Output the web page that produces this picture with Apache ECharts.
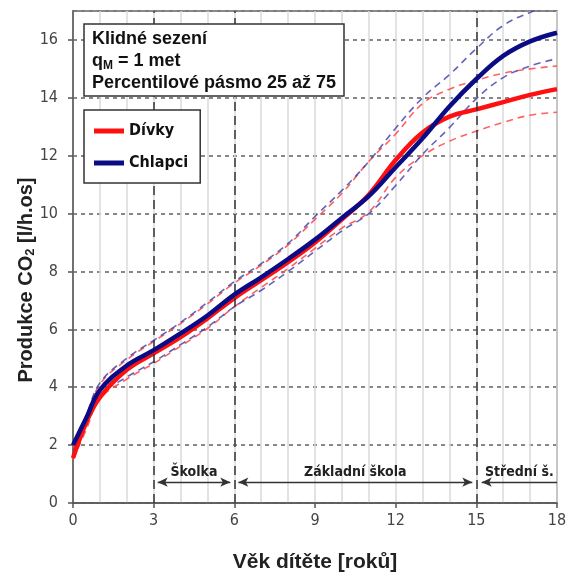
<!DOCTYPE html>
<html>
<head>
<meta charset="utf-8">
<script src="https://cdn.jsdelivr.net/npm/echarts@6/dist/echarts.min.js"></script>
<style>
  html, body { margin: 0; padding: 0; background: #fff; }
  #main { width: 569px; height: 573px; }
</style>
</head>
<body>
<div id="main"></div>
<script>
// věk dítěte [roky]
var ages = [0, 0.5, 1, 2, 3, 4, 5, 6, 7, 8, 9, 10, 11, 12, 13, 14, 15, 16, 17, 18];

// Dívky - medián, 25. a 75. percentil
var girlsMed = [1.55, 2.8, 3.65, 4.6, 5.17, 5.73, 6.38, 7.08, 7.7, 8.32, 9.0, 9.8, 10.65, 11.85, 12.8, 13.35, 13.6, 13.85, 14.1, 14.3];
var girlsP25 = [1.5, 2.55, 3.6, 4.28, 4.82, 5.42, 6.03, 6.78, 7.45, 8.1, 8.8, 9.5, 10.05, 11.25, 12.0, 12.5, 12.85, 13.15, 13.4, 13.5];
var girlsP75 = [1.9, 2.95, 4.1, 4.95, 5.58, 6.2, 6.88, 7.6, 8.22, 8.92, 9.8, 10.7, 11.8, 12.75, 13.8, 14.3, 14.6, 14.85, 15.0, 15.1];

// Chlapci - medián, 25. a 75. percentil
var boysMed = [2.0, 2.95, 3.9, 4.75, 5.28, 5.86, 6.48, 7.2, 7.8, 8.43, 9.1, 9.85, 10.6, 11.6, 12.6, 13.7, 14.65, 15.45, 15.95, 16.25];
var boysP25 = [1.8, 2.7, 3.72, 4.35, 4.88, 5.47, 6.08, 6.78, 7.35, 8.0, 8.7, 9.4, 10.0, 10.97, 12.05, 12.97, 13.97, 14.7, 15.1, 15.35];
var boysP75 = [2.05, 3.05, 4.15, 5.0, 5.62, 6.24, 6.93, 7.65, 8.27, 8.97, 9.9, 10.8, 11.8, 12.95, 14.0, 14.8, 15.7, 16.5, 16.95, 17.25];

// školní období (hranice a popisky)
var schoolBounds = [3, 6, 15];
var periods = [
    {name: 'Školka', from: 3.15, to: 5.85, both: true},
    {name: 'Základní škola', from: 6.15, to: 14.85, both: true},
    {name: 'Střední š.', from: 15.2, to: 18, both: false}
];
var periodY = 0.72;

var condensed = "'Liberation Sans Narrow', 'DejaVu Sans Condensed', sans-serif";
var bold = "'Liberation Sans', 'DejaVu Sans', sans-serif";

function pairs(vals) {
    var out = [];
    for (var i = 0; i < ages.length; i++) {
        out.push([ages[i], vals[i]]);
    }
    return out;
}

function dashed(name, vals, color) {
    return {
        name: name,
        type: 'line',
        data: pairs(vals),
        smooth: 0.4,
        symbol: 'none',
        silent: true,
        lineStyle: {color: color, width: 1.6, type: [7, 5]},
        z: 3
    };
}

var periodLines = periods.map(function (p) {
    return [
        {coord: [p.from, periodY], symbol: 'arrow', symbolSize: [7, 10], name: p.name},
        {coord: [p.to, periodY], symbol: p.both ? 'arrow' : 'none', symbolSize: [7, 10]}
    ];
});

var myChart = echarts.init(document.getElementById('main'));
var option = {
    animation: false,
    title: {
        text: '{b|Klidné sezení}\n{b|q}{s|M}{b| = 1 met}\n{b|Percentilové pásmo 25 až 75}',
        left: 84,
        top: 22,
        padding: [6, 8, 4, 8],
        borderColor: '#333',
        borderWidth: 1.5,
        backgroundColor: '#fff',
        textStyle: {
            rich: {
                b: {fontFamily: bold, fontWeight: 'bold', fontSize: 18, color: '#111', lineHeight: 22},
                s: {fontFamily: bold, fontWeight: 'bold', fontSize: 12, color: '#111', lineHeight: 22, verticalAlign: 'bottom', padding: [8, 0, 0, 0]}
            }
        },
        z: 10
    },
    legend: {
        data: ['Dívky', 'Chlapci'],
        orient: 'vertical',
        left: 84,
        top: 110,
        padding: [13, 12, 12, 10],
        itemGap: 16,
        itemWidth: 30,
        itemHeight: 5,
        icon: 'rect',
        borderColor: '#333',
        borderWidth: 1.5,
        backgroundColor: '#fff',
        textStyle: {fontFamily: condensed, fontWeight: 'bold', fontSize: 16, color: '#111'},
        z: 10
    },
    grid: {
        left: 73,
        right: 12,
        top: 11,
        bottom: 70,
        show: true,
        outerBoundsMode: 'none',
        borderColor: '#666',
        borderWidth: 1.5
    },
    xAxis: {
        type: 'value',
        min: 0,
        max: 18,
        interval: 3,
        name: 'Věk dítěte [roků]',
        nameLocation: 'middle',
        nameGap: 49,
        nameTextStyle: {fontFamily: bold, fontWeight: 'bold', fontSize: 21, color: '#222'},
        axisLine: {lineStyle: {color: '#555', width: 1.5}},
        axisTick: {show: true, length: 5, lineStyle: {color: '#555', width: 1.5}},
        axisLabel: {fontFamily: condensed, fontSize: 16, color: '#444', margin: 10},
        splitLine: {show: true, lineStyle: {color: '#dadada', width: 1.5}},
        minorTick: {show: false, splitNumber: 3},
        minorSplitLine: {show: true, lineStyle: {color: '#dadada', width: 1.5}}
    },
    yAxis: {
        type: 'value',
        min: 0,
        max: 17,
        interval: 2,
        name: '{a|Produkce CO}{s|2}{a| [l/h.os]}',
        nameLocation: 'middle',
        nameGap: 36,
        nameRotate: 90,
        nameMoveOverlap: false,
        nameTextStyle: {
            padding: [0, 46, 0, 0],
            rich: {
                a: {fontFamily: bold, fontWeight: 'bold', fontSize: 20, color: '#222'},
                s: {fontFamily: bold, fontWeight: 'bold', fontSize: 13, color: '#222', padding: [9, 0, 0, 0]}
            }
        },
        axisLine: {lineStyle: {color: '#555', width: 1.5}},
        axisTick: {show: true, length: 5, lineStyle: {color: '#555', width: 1.5}},
        axisLabel: {fontFamily: condensed, fontSize: 16, color: '#444', margin: 15, showMaxLabel: false},
        splitLine: {show: true, lineStyle: {color: '#7a7a7a', width: 1.8, type: [4, 4]}}
    },
    series: [
        dashed('Dívky P25', girlsP25, 'rgba(255, 70, 70, 0.85)'),
        dashed('Dívky P75', girlsP75, 'rgba(255, 70, 70, 0.85)'),
        dashed('Chlapci P25', boysP25, 'rgba(60, 60, 170, 0.8)'),
        dashed('Chlapci P75', boysP75, 'rgba(60, 60, 170, 0.8)'),
        {
            name: 'Dívky',
            type: 'line',
            data: pairs(girlsMed),
            smooth: 0.4,
            symbol: 'none',
            color: '#ff1010',
            lineStyle: {color: '#ff1010', width: 4.5},
            z: 4,
            markLine: {
                silent: true,
                symbol: 'none',
                lineStyle: {color: '#333', width: 1.5, type: [9, 5]},
                label: {show: false},
                data: schoolBounds.map(function (x) { return {xAxis: x}; })
            }
        },
        {
            name: 'Chlapci',
            type: 'line',
            data: pairs(boysMed),
            smooth: 0.4,
            symbol: 'none',
            color: '#0b0b86',
            lineStyle: {color: '#0b0b86', width: 4.5},
            z: 5,
            markLine: {
                silent: true,
                lineStyle: {color: '#333', width: 1.3, type: 'solid'},
                label: {
                    show: true,
                    position: 'insideMiddleTop',
                    distance: 3,
                    formatter: '{b}',
                    fontFamily: condensed,
                    fontWeight: 'bold',
                    fontSize: 14,
                    color: '#222'
                },
                data: periodLines
            }
        }
    ]
};
myChart.setOption(option);
</script>
</body>
</html>
